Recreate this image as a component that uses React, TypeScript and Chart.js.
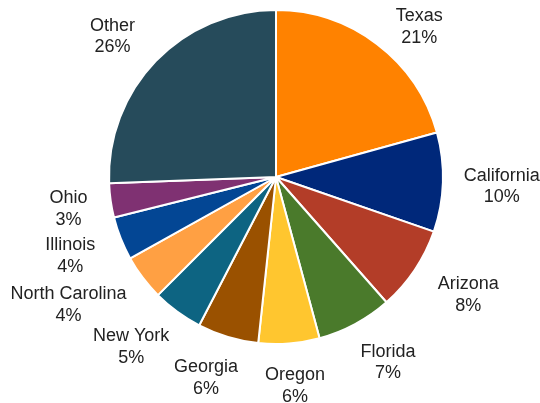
import React, { useEffect, useRef } from "react";
import { Chart, registerables } from "chart.js";

Chart.register(...registerables);

const categories = [
  "Texas",
  "California",
  "Arizona",
  "Florida",
  "Oregon",
  "Georgia",
  "New York",
  "North Carolina",
  "Illinois",
  "Ohio",
  "Other",
];
const shares = [20.7, 9.6, 8.2, 7.3, 5.9, 5.9, 4.9, 4.4, 4.2, 3.3, 25.6];
const sliceColors = [
  "#FF8200",
  "#00287A",
  "#B33D28",
  "#4A7A2B",
  "#FFC62F",
  "#9A5100",
  "#0D6482",
  "#FFA043",
  "#034694",
  "#7F3172",
  "#264B5B",
];

const LABEL_FONT = '18px "Liberation Sans", Arial, sans-serif';
const LINE_H = 21.5;

const outsideLabels = {
  id: "outsideLabels",
  afterDraw(chart: any) {
    const ctx = chart.ctx as CanvasRenderingContext2D;
    const meta = chart.getDatasetMeta(0);
    const data = chart.data.datasets[0].data as number[];
    const total = data.reduce((s, v) => s + v, 0);
    const H = chart.height;
    ctx.save();
    ctx.font = LABEL_FONT;
    ctx.fillStyle = "#222222";
    ctx.textAlign = "center";
    ctx.textBaseline = "middle";
    meta.data.forEach((arc: any, i: number) => {
      const p = arc.getProps(["x", "y", "startAngle", "endAngle", "outerRadius"], true);
      const mid = (p.startAngle + p.endAngle) / 2;
      const ux = Math.cos(mid);
      const uy = Math.sin(mid);
      const lines = [String(chart.data.labels[i]), Math.round((data[i] / total) * 100) + "%"];
      const w = Math.max(...lines.map((l) => ctx.measureText(l).width));
      const a = w / 2;
      const b = 20;
      const R = p.outerRadius + 20;
      let cx = p.x + ux * R + ux * a + ux * Math.abs(uy) * 25;
      let cy = p.y + uy * R + uy * b;
      let clamped = false;
      if (cy - b < 4) {
        cy = 4 + b;
        clamped = true;
      }
      if (cy + b > H) {
        cy = H - b;
        clamped = true;
      }
      if (clamped) {
        const Rc = p.outerRadius + 12;
        const py = Math.abs(cy - p.y) - b;
        if (py < Rc) {
          const nx = p.x + Math.sign(ux) * (Math.sqrt(Rc * Rc - py * py) + a);
          if (Math.abs(nx - p.x) > Math.abs(cx - p.x)) cx = nx;
        }
      }
      ctx.fillText(lines[0], cx, cy - LINE_H / 2 + 3);
      ctx.fillText(lines[1], cx, cy + LINE_H / 2 + 3);
    });
    ctx.restore();
  },
};

export default function App() {
  const ref = useRef<HTMLCanvasElement | null>(null);
  useEffect(() => {
    document.body.style.margin = "0";
    const canvas = ref.current;
    if (!canvas) return;
    const chart = new Chart(canvas, {
      type: "pie",
      data: {
        labels: categories,
        datasets: [
          {
            data: shares,
            backgroundColor: sliceColors,
            borderColor: "#ffffff",
            borderWidth: 2,
          },
        ],
      },
      options: {
        responsive: false,
        animation: false,
        layout: { padding: { left: 102, right: 90, top: 9, bottom: 58 } },
        plugins: {
          legend: { display: false },
          tooltip: { enabled: false },
        },
      },
      plugins: [outsideLabels],
    });
    return () => chart.destroy();
  }, []);
  return (
    <div style={{ width: 540, height: 403, background: "#ffffff" }}>
      <canvas ref={ref} width={540} height={403} style={{ display: "block" }} />
    </div>
  );
}
